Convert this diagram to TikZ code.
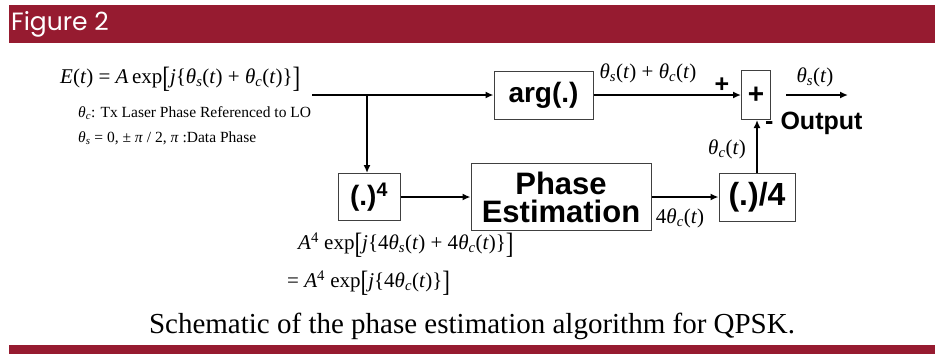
\documentclass[tikz,border=0pt]{standalone}
\usepackage{fontspec}
\setmainfont{Liberation Serif}
\setsansfont{Liberation Sans}
\newfontfamily\figfont{Poppins}
\usetikzlibrary{arrows.meta}
\definecolor{maroon}{RGB}{150,27,48}
\newcommand{\ii}[1]{\textit{#1}}
\newcommand{\thx}[1]{\textit{θ}\textsubscript{\textit{#1}}}
\newcommand{\lbr}{\raisebox{-0.17em}{\scalebox{1.1}[1.4]{[}}}
\newcommand{\rbr}{\raisebox{-0.17em}{\scalebox{1.1}[1.4]{]}}}
\begin{document}
\begin{tikzpicture}[x=1pt,y=-1pt,
  box/.style={draw=black!75, line width=1pt, inner sep=0pt, fill=white,
    font=\sffamily\bfseries\fontsize{28}{28}\selectfont},
  conn/.style={line width=1.8pt, -{Latex[length=8pt,width=7pt]}},
  eq/.style={font=\fontsize{21}{23}\selectfont, inner sep=0pt},
  note/.style={font=\fontsize{15.5}{17}\selectfont, inner sep=0pt, anchor=west},
  lab/.style={font=\sffamily\bfseries\fontsize{25}{26}\selectfont, inner sep=0pt}]
\useasboundingbox (0,0) rectangle (936,354);
\fill[maroon] (9,5) rectangle (935,43);
\fill[maroon] (9,345) rectangle (935,354);
\node[anchor=west, text=white, inner sep=0pt, font=\figfont\fontsize{25}{25}\selectfont] (fig) at (11,24) {Figure 2};

% blocks
\node[box, minimum width=99pt, minimum height=48pt] (arg) at (543.5,95) {arg(.)};
\node[box, minimum width=29pt, minimum height=49pt] (plus) at (756,95) {+};
\node[box, minimum width=62pt, minimum height=47pt] (pow) at (369,197) {(.)\textsuperscript{4}};
\node[box, align=center, minimum width=180pt, minimum height=67pt, font=\sffamily\bfseries\fontsize{31}{28}\selectfont] (pe) at (561,197) {Phase\\Estimation};
\node[box, minimum width=76pt, minimum height=48pt, font=\sffamily\bfseries\fontsize{32}{32}\selectfont] (div) at (757,197) {(.)/4};

% connectors
\coordinate (in) at (312,95);
\coordinate (br) at (367,95);
\coordinate (os) at (786,95);
\coordinate (oe) at (848,95);
\draw[conn] (in) -- (arg);
\draw[conn] (br) -- (br |- pow.north);
\draw[conn] (arg) -- (plus);
\draw[conn] (os) -- (oe);
\draw[conn] (pow) -- (pe);
\draw[conn] (pe) -- (div);
\draw[conn] (div.north) -- (div.north |- plus.south);

% labels
\node[eq, anchor=west] (eqE) at (60,79) {\ii{E}(\ii{t}) = \ii{A}\,exp\lbr\ii{j}\{\thx{s}(\ii{t}) + \thx{c}(\ii{t})\}\rbr};
\node[note] (n1) at (78,113) {\thx{c}: Tx Laser Phase  Referenced to LO};
\node[note] (n2) at (78,138) {\thx{s} = 0, ± \ii{π} / 2, \ii{π} :Data Phase};
\node[eq] (lsc) at (648,73) {\thx{s}(\ii{t}) + \thx{c}(\ii{t})};
\node[eq] (ls) at (815,77) {\thx{s}(\ii{t})};
\node[eq] (lc) at (727,149) {\thx{c}(\ii{t})};
\node[eq] (l4c) at (680,218) {4\thx{c}(\ii{t})};
\node[lab] (pl) at (722,85) {+};
\node[lab, anchor=west] (out) at (765,123) {-\hspace{7pt}Output};
\node[eq, anchor=west] (q1) at (298,245) {\ii{A}\textsuperscript{4} exp\lbr\ii{j}\{4\thx{s}(\ii{t}) + 4\thx{c}(\ii{t})\}\rbr};
\node[eq, anchor=west] (q2) at (287,283) {= \ii{A}\textsuperscript{4} exp\lbr\ii{j}\{4\thx{c}(\ii{t})\}\rbr};
\node[inner sep=0pt, font=\fontsize{29}{31}\selectfont] (cap) at (472,326) {Schematic of the phase estimation algorithm for QPSK.};
\end{tikzpicture}
\end{document}
